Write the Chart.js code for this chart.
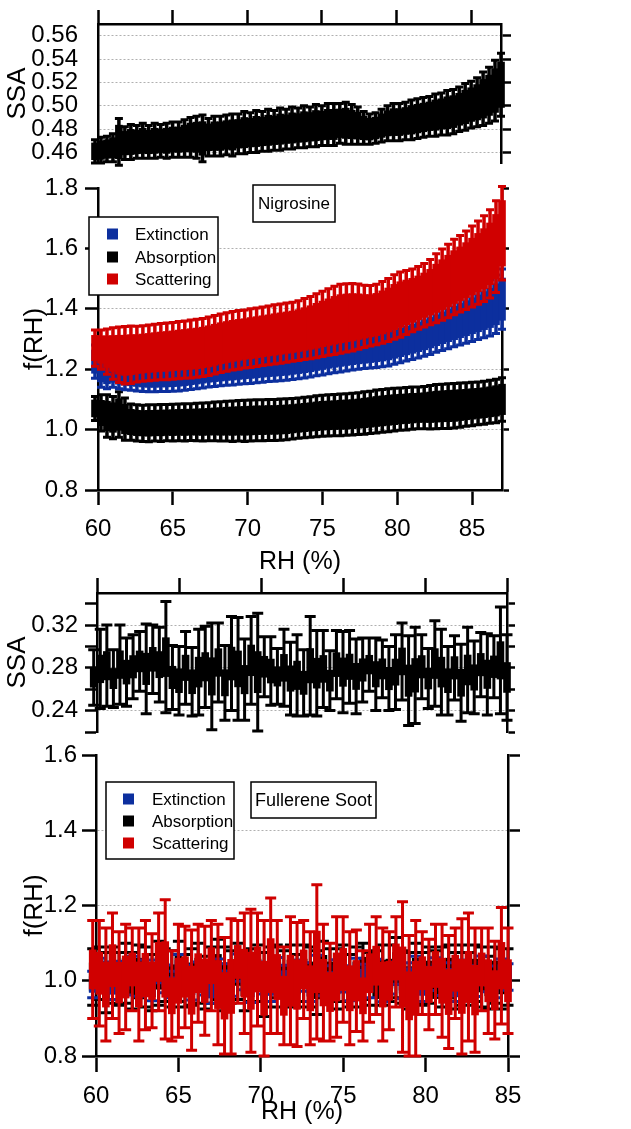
<!DOCTYPE html>
<html>
<head>
<meta charset="utf-8">
<script src="https://cdn.jsdelivr.net/npm/chart.js@4.4.0/dist/chart.umd.min.js"></script>
<style>
  html, body { margin: 0; padding: 0; background: #fff; }
  #wrap { position: relative; width: 631px; height: 1129px; overflow: hidden; }
  #wrap canvas { position: absolute; left: 0; top: 0; }
</style>
</head>
<body>
<div id="wrap">
  <canvas id="nigSSA" width="631" height="1129"></canvas>
  <canvas id="nigF" width="631" height="1129"></canvas>
  <canvas id="fulSSA" width="631" height="1129"></canvas>
  <canvas id="fulF" width="631" height="1129"></canvas>
</div>
<script>
// ---- data ----
const seriesNames = ['Extinction', 'Absorption', 'Scattering'];
const seriesColors = ['#0c2f9e', '#000000', '#d00000'];

const rhTicks = [60, 65, 70, 75, 80, 85];
const ssaNigTicks = [0.46, 0.48, 0.50, 0.52, 0.54, 0.56];
const fNigTicks = [0.8, 1.0, 1.2, 1.4, 1.6, 1.8];
const ssaFulTicks = [0.22, 0.24, 0.26, 0.28, 0.30, 0.32, 0.34];
const ssaFulLabels = [0.24, 0.28, 0.32];
const fFulTicks = [0.8, 1.0, 1.2, 1.4, 1.6];

// Nigrosine
const rhNig = [59.8, 60.2, 60.6, 61.0, 61.4, 61.8, 62.2, 62.6, 63.0, 63.4, 63.8, 64.2, 64.6, 65.0, 65.4, 65.8, 66.2, 66.6, 67.0, 67.4,
  67.8, 68.2, 68.6, 69.0, 69.4, 69.8, 70.2, 70.6, 71.0, 71.4, 71.8, 72.2, 72.6, 73.0, 73.4, 73.8, 74.2, 74.6, 75.0, 75.4,
  75.8, 76.2, 76.6, 77.0, 77.4, 77.8, 78.2, 78.6, 79.0, 79.4, 79.8, 80.2, 80.6, 81.0, 81.4, 81.8, 82.2, 82.6, 83.0, 83.4,
  83.8, 84.2, 84.6, 85.0, 85.4, 85.8, 86.2, 86.6, 87.0];
const ssaNig = [0.461, 0.462, 0.463, 0.464, 0.469, 0.468, 0.469, 0.469, 0.470, 0.469,
  0.470, 0.470, 0.470, 0.471, 0.471, 0.472, 0.473, 0.473, 0.472, 0.473,
  0.474, 0.474, 0.475, 0.475, 0.476, 0.477, 0.477, 0.478, 0.478, 0.479,
  0.479, 0.480, 0.480, 0.481, 0.481, 0.482, 0.482, 0.483, 0.483, 0.484,
  0.484, 0.485, 0.485, 0.484, 0.483, 0.481, 0.480, 0.481, 0.483, 0.485,
  0.486, 0.486, 0.487, 0.488, 0.489, 0.490, 0.491, 0.492, 0.493, 0.494,
  0.495, 0.497, 0.499, 0.501, 0.503, 0.506, 0.509, 0.513, 0.518];
const ssaNigErr = [0.010, 0.011, 0.011, 0.012, 0.020, 0.014, 0.015, 0.014, 0.015, 0.014,
  0.015, 0.014, 0.015, 0.015, 0.015, 0.016, 0.017, 0.018, 0.020, 0.016,
  0.017, 0.017, 0.017, 0.018, 0.017, 0.018, 0.017, 0.018, 0.017, 0.018,
  0.017, 0.018, 0.017, 0.018, 0.017, 0.018, 0.017, 0.018, 0.017, 0.018,
  0.018, 0.017, 0.018, 0.017, 0.016, 0.014, 0.013, 0.013, 0.014, 0.015,
  0.016, 0.016, 0.016, 0.017, 0.017, 0.017, 0.017, 0.018, 0.018, 0.019,
  0.019, 0.019, 0.020, 0.020, 0.021, 0.023, 0.024, 0.026, 0.027];
const extNig = [1.225, 1.200, 1.190, 1.195, 1.185, 1.182, 1.180, 1.178, 1.176, 1.175,
  1.175, 1.176, 1.177, 1.178, 1.180, 1.182, 1.185, 1.188, 1.191, 1.194,
  1.196, 1.198, 1.200, 1.202, 1.204, 1.206, 1.208, 1.210, 1.212, 1.214,
  1.216, 1.218, 1.220, 1.223, 1.226, 1.229, 1.233, 1.237, 1.241, 1.245,
  1.249, 1.252, 1.255, 1.257, 1.259, 1.261, 1.264, 1.268, 1.272, 1.277,
  1.283, 1.289, 1.295, 1.301, 1.307, 1.314, 1.321, 1.329, 1.337, 1.345,
  1.353, 1.361, 1.369, 1.377, 1.385, 1.394, 1.403, 1.415, 1.432];
const extNigErr = [0.055, 0.060, 0.055, 0.055, 0.050, 0.050, 0.050, 0.050, 0.050, 0.050,
  0.050, 0.050, 0.051, 0.051, 0.052, 0.052, 0.052, 0.053, 0.053, 0.053,
  0.053, 0.053, 0.053, 0.054, 0.054, 0.054, 0.055, 0.055, 0.055, 0.055,
  0.056, 0.056, 0.057, 0.057, 0.058, 0.058, 0.059, 0.059, 0.060, 0.060,
  0.061, 0.061, 0.061, 0.060, 0.059, 0.059, 0.060, 0.062, 0.064, 0.066,
  0.067, 0.068, 0.068, 0.069, 0.070, 0.071, 0.072, 0.073, 0.075, 0.077,
  0.079, 0.081, 0.083, 0.085, 0.087, 0.090, 0.093, 0.097, 0.100];
const absNig = [1.070, 1.055, 1.045, 1.040, 1.050, 1.035, 1.025, 1.022, 1.021, 1.021,
  1.022, 1.022, 1.023, 1.023, 1.024, 1.024, 1.025, 1.025, 1.025, 1.026,
  1.027, 1.027, 1.028, 1.028, 1.029, 1.029, 1.030, 1.031, 1.031, 1.032,
  1.032, 1.033, 1.034, 1.036, 1.038, 1.040, 1.042, 1.044, 1.046, 1.047,
  1.048, 1.049, 1.050, 1.051, 1.053, 1.055, 1.057, 1.060, 1.062, 1.064,
  1.066, 1.068, 1.069, 1.071, 1.072, 1.073, 1.074, 1.076, 1.077, 1.078,
  1.079, 1.081, 1.083, 1.085, 1.087, 1.089, 1.092, 1.095, 1.100];
const absNigErr = [0.040, 0.060, 0.070, 0.070, 0.075, 0.070, 0.060, 0.060, 0.060, 0.061,
  0.060, 0.061, 0.060, 0.061, 0.061, 0.062, 0.061, 0.062, 0.063, 0.063,
  0.064, 0.065, 0.066, 0.067, 0.067, 0.068, 0.068, 0.068, 0.068, 0.068,
  0.068, 0.068, 0.068, 0.067, 0.067, 0.067, 0.067, 0.068, 0.068, 0.068,
  0.068, 0.069, 0.069, 0.069, 0.069, 0.070, 0.070, 0.071, 0.071, 0.071,
  0.071, 0.070, 0.070, 0.070, 0.069, 0.070, 0.072, 0.073, 0.073, 0.074,
  0.074, 0.073, 0.072, 0.072, 0.071, 0.071, 0.071, 0.072, 0.072];
const scaNig = [1.270, 1.265, 1.258, 1.252, 1.248, 1.246, 1.248, 1.250, 1.252, 1.254,
  1.256, 1.258, 1.259, 1.261, 1.263, 1.265, 1.267, 1.269, 1.272, 1.276,
  1.281, 1.286, 1.290, 1.294, 1.297, 1.300, 1.303, 1.306, 1.309, 1.312,
  1.315, 1.318, 1.321, 1.324, 1.328, 1.333, 1.338, 1.344, 1.350, 1.356,
  1.362, 1.367, 1.370, 1.372, 1.374, 1.375, 1.377, 1.381, 1.388, 1.396,
  1.406, 1.414, 1.421, 1.428, 1.436, 1.445, 1.455, 1.468, 1.480, 1.492,
  1.505, 1.516, 1.528, 1.540, 1.553, 1.566, 1.582, 1.606, 1.650];
const scaNigErr = [0.060, 0.065, 0.075, 0.085, 0.092, 0.095, 0.095, 0.092, 0.092, 0.092,
  0.093, 0.093, 0.094, 0.094, 0.095, 0.095, 0.096, 0.096, 0.096, 0.097,
  0.097, 0.097, 0.097, 0.097, 0.097, 0.096, 0.097, 0.097, 0.097, 0.097,
  0.098, 0.098, 0.098, 0.098, 0.099, 0.101, 0.103, 0.106, 0.108, 0.110,
  0.113, 0.114, 0.113, 0.112, 0.108, 0.103, 0.100, 0.100, 0.102, 0.104,
  0.107, 0.108, 0.106, 0.104, 0.104, 0.105, 0.108, 0.114, 0.118, 0.122,
  0.125, 0.127, 0.130, 0.134, 0.138, 0.142, 0.146, 0.152, 0.155];

// Fullerene soot
const rhFul = [59.8, 60.2, 60.6, 61.0, 61.4, 61.8, 62.2, 62.6, 63.0, 63.4, 63.8, 64.2, 64.6, 65.0, 65.4, 65.8,
  66.2, 66.6, 67.0, 67.4, 67.8, 68.2, 68.6, 69.0, 69.4, 69.8, 70.2, 70.6, 71.0, 71.4, 71.8, 72.2,
  72.6, 73.0, 73.4, 73.8, 74.2, 74.6, 75.0, 75.4, 75.8, 76.2, 76.6, 77.0, 77.4, 77.8, 78.2, 78.6,
  79.0, 79.4, 79.8, 80.2, 80.6, 81.0, 81.4, 81.8, 82.2, 82.6, 83.0, 83.4, 83.8, 84.2, 84.6, 85.0];
const ssaFul = [0.271, 0.279, 0.282, 0.270, 0.283, 0.276, 0.281, 0.286, 0.279, 0.288, 0.283, 0.290, 0.271, 0.268, 0.280, 0.267,
  0.276, 0.281, 0.272, 0.285, 0.266, 0.284, 0.279, 0.269, 0.287, 0.276, 0.281, 0.277, 0.272, 0.280, 0.270, 0.273,
  0.266, 0.282, 0.275, 0.279, 0.268, 0.283, 0.276, 0.281, 0.272, 0.278, 0.283, 0.274, 0.279, 0.270, 0.276, 0.286,
  0.268, 0.273, 0.281, 0.270, 0.284, 0.276, 0.268, 0.280, 0.266, 0.278, 0.271, 0.283, 0.274, 0.281, 0.287, 0.271];
const ssaFulErr = [0.026, 0.037, 0.038, 0.027, 0.037, 0.032, 0.030, 0.028, 0.042, 0.032, 0.035, 0.052, 0.030, 0.032, 0.034, 0.032,
  0.040, 0.038, 0.050, 0.037, 0.035, 0.044, 0.048, 0.038, 0.041, 0.055, 0.028, 0.032, 0.026, 0.036, 0.034, 0.038,
  0.031, 0.046, 0.040, 0.036, 0.028, 0.032, 0.038, 0.034, 0.035, 0.030, 0.025, 0.034, 0.027, 0.030, 0.035, 0.036,
  0.042, 0.045, 0.030, 0.028, 0.040, 0.040, 0.032, 0.030, 0.036, 0.040, 0.034, 0.030, 0.038, 0.029, 0.050, 0.040];
const extFul = [0.990, 1.030, 1.010, 0.985, 1.020, 1.000, 1.035, 0.995, 1.015, 0.980, 1.025, 1.005, 0.990, 1.030, 1.010, 0.985,
  1.020, 1.000, 0.975, 1.025, 1.005, 0.990, 1.035, 1.010, 0.980, 1.020, 1.000, 0.985, 1.030, 1.005, 0.990, 1.025,
  1.010, 0.980, 1.035, 1.000, 0.990, 1.020, 1.005, 0.985, 1.030, 1.010, 0.995, 1.025, 0.980, 1.000, 1.020, 0.990,
  1.015, 1.030, 0.985, 1.005, 1.025, 0.995, 1.010, 0.975, 1.020, 1.000, 0.990, 1.030, 1.005, 0.985, 1.020, 1.010];
const extFulErr = [0.035, 0.030, 0.040, 0.035, 0.032, 0.038, 0.030, 0.036, 0.040, 0.033, 0.030, 0.037, 0.035, 0.040, 0.032, 0.036,
  0.030, 0.038, 0.035, 0.033, 0.040, 0.031, 0.036, 0.034, 0.038, 0.030, 0.035, 0.040, 0.032, 0.036, 0.034, 0.030,
  0.038, 0.035, 0.033, 0.040, 0.031, 0.036, 0.035, 0.038, 0.030, 0.034, 0.040, 0.032, 0.036, 0.035, 0.030, 0.038,
  0.033, 0.035, 0.040, 0.031, 0.036, 0.034, 0.038, 0.030, 0.035, 0.040, 0.032, 0.036, 0.034, 0.030, 0.038, 0.035];
const absFul = [1.010, 1.020, 0.995, 1.015, 1.005, 1.020, 1.000, 1.025, 1.010, 0.995, 1.020, 1.015, 1.005, 1.025, 1.000, 1.010,
  1.020, 0.995, 1.015, 1.030, 1.005, 1.010, 1.025, 1.000, 1.015, 1.020, 0.990, 1.010, 1.025, 1.005, 1.015, 1.000,
  1.020, 1.010, 0.995, 1.030, 1.015, 1.005, 1.020, 1.000, 1.010, 1.025, 1.005, 0.995, 1.015, 1.020, 1.035, 1.010,
  1.000, 1.020, 1.005, 1.015, 0.995, 1.010, 1.025, 1.000, 1.015, 1.005, 1.020, 1.010, 0.995, 1.015, 1.005, 1.010];
const absFulErr = [0.075, 0.070, 0.080, 0.075, 0.070, 0.080, 0.075, 0.070, 0.080, 0.075, 0.085, 0.070, 0.075, 0.080, 0.070, 0.075,
  0.080, 0.070, 0.075, 0.080, 0.085, 0.070, 0.075, 0.080, 0.070, 0.075, 0.085, 0.080, 0.070, 0.075, 0.080, 0.070,
  0.075, 0.080, 0.085, 0.075, 0.070, 0.080, 0.075, 0.070, 0.080, 0.075, 0.070, 0.085, 0.080, 0.075, 0.080, 0.070,
  0.075, 0.080, 0.070, 0.075, 0.085, 0.080, 0.070, 0.075, 0.080, 0.070, 0.075, 0.080, 0.070, 0.075, 0.080, 0.075];
const scaFul = [1.030, 1.020, 0.990, 1.040, 0.995, 1.010, 1.030, 0.990, 1.015, 1.000, 1.050, 1.030, 0.960, 1.000, 1.010, 0.975,
  1.020, 1.000, 1.040, 0.990, 0.960, 0.985, 1.050, 1.020, 1.000, 1.030, 0.980, 1.040, 1.010, 0.960, 1.000, 0.990,
  1.030, 0.980, 1.050, 0.995, 0.970, 1.010, 1.030, 0.980, 1.000, 0.960, 1.020, 1.040, 0.990, 1.000, 1.050, 1.010,
  0.960, 0.980, 1.020, 0.990, 1.030, 1.000, 0.970, 1.020, 0.985, 1.010, 0.975, 1.030, 1.000, 0.975, 1.040, 1.000];
const scaFulErr = [0.130, 0.140, 0.150, 0.140, 0.135, 0.140, 0.110, 0.150, 0.145, 0.125, 0.130, 0.185, 0.120, 0.150, 0.135, 0.160,
  0.130, 0.145, 0.120, 0.160, 0.155, 0.180, 0.110, 0.160, 0.190, 0.150, 0.180, 0.180, 0.150, 0.130, 0.170, 0.165,
  0.130, 0.150, 0.205, 0.155, 0.130, 0.160, 0.140, 0.150, 0.135, 0.120, 0.130, 0.130, 0.150, 0.130, 0.120, 0.200,
  0.160, 0.180, 0.110, 0.120, 0.120, 0.150, 0.150, 0.120, 0.180, 0.170, 0.165, 0.110, 0.140, 0.130, 0.155, 0.140];

// ---- drawing helpers ----
const black = '#000000';
const gridGrey = '#b0b0b0';
Chart.defaults.font.family = '"Liberation Sans", Arial, Helvetica, sans-serif';
Chart.defaults.color = black;

// vertical error bars with caps, drawn under each dataset's markers
const errorBars = {
  id: 'errorBars',
  beforeDatasetDraw(chart, args, opts) {
    const ds = chart.data.datasets[args.index];
    if (!ds.errors) return;
    const xScale = chart.scales[args.meta.xAxisID];
    const yScale = chart.scales[args.meta.yAxisID];
    const ends = ds.xs.map((x, i) => ({
      x: xScale.getPixelForValue(x),
      top: yScale.getPixelForValue(ds.centers[i] + ds.errors[i]),
      bottom: yScale.getPixelForValue(ds.centers[i] - ds.errors[i])
    }));
    const ctx = chart.ctx;
    ctx.save();
    ctx.strokeStyle = ds.backgroundColor;
    ctx.lineWidth = opts.stem;
    ctx.beginPath();
    ends.forEach(e => { ctx.moveTo(e.x, e.top); ctx.lineTo(e.x, e.bottom); });
    ctx.stroke();
    ctx.lineWidth = opts.capLine;
    ctx.beginPath();
    ends.forEach(e => {
      ctx.moveTo(e.x - opts.cap / 2, e.top); ctx.lineTo(e.x + opts.cap / 2, e.top);
      ctx.moveTo(e.x - opts.cap / 2, e.bottom); ctx.lineTo(e.x + opts.cap / 2, e.bottom);
    });
    ctx.stroke();
    ctx.restore();
  }
};

// framed sample name and legend
const boxes = {
  id: 'boxes',
  afterDraw(chart, args, opts) {
    const ctx = chart.ctx;
    ctx.save();
    ctx.lineWidth = 1.5;
    ctx.strokeStyle = black;
    ctx.textBaseline = 'middle';
    const tag = opts.tag;
    if (tag) {
      ctx.fillStyle = '#fff';
      ctx.fillRect(tag.x, tag.y, tag.w, tag.h);
      ctx.strokeRect(tag.x, tag.y, tag.w, tag.h);
      ctx.fillStyle = black;
      ctx.textAlign = 'center';
      ctx.font = tag.size + 'px "Liberation Sans", Arial, sans-serif';
      ctx.fillText(tag.text, tag.x + tag.w / 2, tag.y + tag.h / 2 + 1);
    }
    const lg = opts.legend;
    if (lg) {
      ctx.fillStyle = '#fff';
      ctx.fillRect(lg.x, lg.y, lg.w, lg.h);
      ctx.strokeRect(lg.x, lg.y, lg.w, lg.h);
      ctx.textAlign = 'left';
      ctx.font = '17px "Liberation Sans", Arial, sans-serif';
      seriesNames.forEach((name, i) => {
        const cy = lg.rows[i];
        ctx.fillStyle = seriesColors[i];
        ctx.fillRect(lg.sqX, cy - lg.sq / 2, lg.sq, lg.sq);
        ctx.fillStyle = black;
        ctx.fillText(name, lg.textX, cy + 1);
      });
    }
    ctx.restore();
  }
};

function useTicks(values) { return s => { s.ticks = values.map(v => ({ value: v })); }; }

function series(label, xs, ys, errs, color, k, order) {
  return {
    label: label, order: order, xs: xs, centers: ys, errors: errs,
    data: xs.map((x, i) => ({ x: x, y: [ys[i] - k * errs[i], ys[i] + k * errs[i]] })),
    backgroundColor: color, borderWidth: 0, grouped: false,
    barThickness: 7, maxBarThickness: 7, clip: false
  };
}

function leftAxis(o) {
  return {
    position: 'left', min: o.min, max: o.max, beginAtZero: false,
    afterBuildTicks: useTicks(o.ticks),
    afterFit: s => { s.width = o.width; },
    ticks: { autoSkip: false, padding: o.pad, font: { size: 24 }, callback: o.label },
    grid: { color: o.grid, lineWidth: 1, tickLength: o.tick, tickColor: o.tickColor || black, tickWidth: 2.5 },
    border: { color: black, width: 2.5, dash: [2, 2] },
    title: { display: true, text: o.title, font: { size: 26 }, padding: { top: o.titlePad, bottom: 0 } }
  };
}

function rightAxis(o) {
  return {
    position: 'right', min: o.min, max: o.max, beginAtZero: false,
    afterBuildTicks: useTicks(o.ticks),
    afterFit: s => { s.width = o.tick; },
    ticks: { display: false },
    grid: { drawOnChartArea: false, tickLength: o.tick, tickColor: black, tickWidth: 2.5 },
    border: { color: black, width: 2.5 }
  };
}

function rhAxis(o) {
  const axis = {
    type: 'linear', position: o.position, min: o.min, max: o.max, offset: false,
    afterBuildTicks: useTicks(rhTicks),
    afterFit: s => { s.height = o.height; },
    ticks: { display: o.labels, autoSkip: false, maxRotation: 0, padding: 10, font: { size: 24 } },
    grid: { offset: false, drawOnChartArea: false, tickLength: o.tick, tickColor: black, tickWidth: 2.5 },
    border: { color: black, width: 2.5 }
  };
  if (o.labels) axis.title = { display: true, text: 'RH (%)', font: { size: 25 }, padding: { top: 0, bottom: 0 } };
  return axis;
}

function baseOptions(padding, errStyle, scales, boxOpts) {
  return {
    responsive: false, animation: false, devicePixelRatio: 1,
    layout: { padding: padding },
    scales: scales,
    plugins: { legend: { display: false }, tooltip: { enabled: false }, errorBars: errStyle, boxes: boxOpts || {} }
  };
}

const denseStyle = { stem: 3.5, cap: 8, capLine: 3 };
const sparseStyle = { stem: 3, cap: 11, capLine: 3 };

// ---- Nigrosine SSA ----
new Chart(document.getElementById('nigSSA'), {
  type: 'bar',
  data: { datasets: [series('SSA', rhNig, ssaNig, ssaNigErr, black, 0.72, 0)] },
  options: baseOptions({ left: 0, top: 0, right: 120, bottom: 966 }, denseStyle, {
    x: rhAxis({ position: 'top', min: 60, max: 87, height: 24, tick: 14, labels: false }),
    y: leftAxis({ min: 0.451, max: 0.570, ticks: ssaNigTicks, width: 98, pad: 8, tick: 12, tickColor: 'transparent',
      grid: gridGrey, label: v => v.toFixed(2), title: 'SSA', titlePad: 2 }),
    y2: rightAxis({ min: 0.451, max: 0.570, ticks: ssaNigTicks, tick: 10 })
  }),
  plugins: [errorBars]
});

// ---- Nigrosine f(RH) ----
new Chart(document.getElementById('nigF'), {
  type: 'bar',
  data: { datasets: [
    series(seriesNames[0], rhNig, extNig, extNigErr, seriesColors[0], 0.7, 1),
    series(seriesNames[1], rhNig, absNig, absNigErr, seriesColors[1], 0.7, 2),
    series(seriesNames[2], rhNig, scaNig, scaNigErr, seriesColors[2], 0.7, 0)
  ] },
  options: baseOptions({ left: 0, top: 188, right: 122, bottom: 552 }, denseStyle, {
    x: rhAxis({ position: 'bottom', min: 60, max: 87, height: 87, tick: 15, labels: true }),
    y: leftAxis({ min: 0.8, max: 1.8, ticks: fNigTicks, width: 98, pad: 7, tick: 13,
      grid: c => (c.tick && c.tick.value > 0.9 && c.tick.value < 1.7) ? gridGrey : 'transparent',
      label: v => v.toFixed(1), title: 'f(RH)', titlePad: 19 }),
    y2: rightAxis({ min: 0.8, max: 1.8, ticks: fNigTicks, tick: 7 })
  }, {
    tag: { x: 253, y: 185, w: 82, h: 37, text: 'Nigrosine', size: 17 },
    legend: { x: 89, y: 217, w: 129, h: 78, sq: 11, sqX: 107, textX: 135, rows: [234, 257, 279] }
  }),
  plugins: [errorBars, boxes]
});

// ---- Fullerene soot SSA ----
new Chart(document.getElementById('fulSSA'), {
  type: 'bar',
  data: { datasets: [series('SSA', rhFul, ssaFul, ssaFulErr, black, 0.35, 0)] },
  options: baseOptions({ left: 0, top: 573, right: 116, bottom: 397 }, sparseStyle, {
    x: rhAxis({ position: 'top', min: 60, max: 85, height: 20, tick: 15, labels: false }),
    y: leftAxis({ min: 0.22, max: 0.35, ticks: ssaFulTicks, width: 97, pad: 7, tick: 12,
      grid: c => (c.tick && ssaFulLabels.includes(c.tick.value)) ? gridGrey : 'transparent',
      label: v => ssaFulLabels.includes(v) ? v.toFixed(2) : '', title: 'SSA', titlePad: 2 }),
    y2: rightAxis({ min: 0.22, max: 0.35, ticks: ssaFulTicks, tick: 8 })
  }),
  plugins: [errorBars]
});

// ---- Fullerene soot f(RH) ----
new Chart(document.getElementById('fulF'), {
  type: 'bar',
  data: { datasets: [
    series(seriesNames[0], rhFul, extFul, extFulErr, seriesColors[0], 0.6, 1),
    series(seriesNames[1], rhFul, absFul, absFulErr, seriesColors[1], 0.5, 2),
    series(seriesNames[2], rhFul, scaFul, scaFulErr, seriesColors[2], 0.4, 0)
  ] },
  options: baseOptions({ left: 0, top: 755, right: 111, bottom: 2 }, sparseStyle, {
    x: rhAxis({ position: 'bottom', min: 60, max: 85, height: 71, tick: 16, labels: true }),
    y: leftAxis({ min: 0.8, max: 1.6, ticks: fFulTicks, width: 96, pad: 5, tick: 14,
      grid: c => (c.tick && c.tick.value > 0.9 && c.tick.value < 1.5) ? gridGrey : 'transparent',
      label: v => v.toFixed(1), title: 'f(RH)', titlePad: 19 }),
    y2: rightAxis({ min: 0.8, max: 1.6, ticks: fFulTicks, tick: 12 })
  }, {
    tag: { x: 251, y: 782, w: 125, h: 36, text: 'Fullerene Soot', size: 18 },
    legend: { x: 106, y: 782, w: 128, h: 77, sq: 11, sqX: 123, textX: 152, rows: [799, 821, 843] }
  }),
  plugins: [errorBars, boxes]
});
</script>
</body>
</html>
